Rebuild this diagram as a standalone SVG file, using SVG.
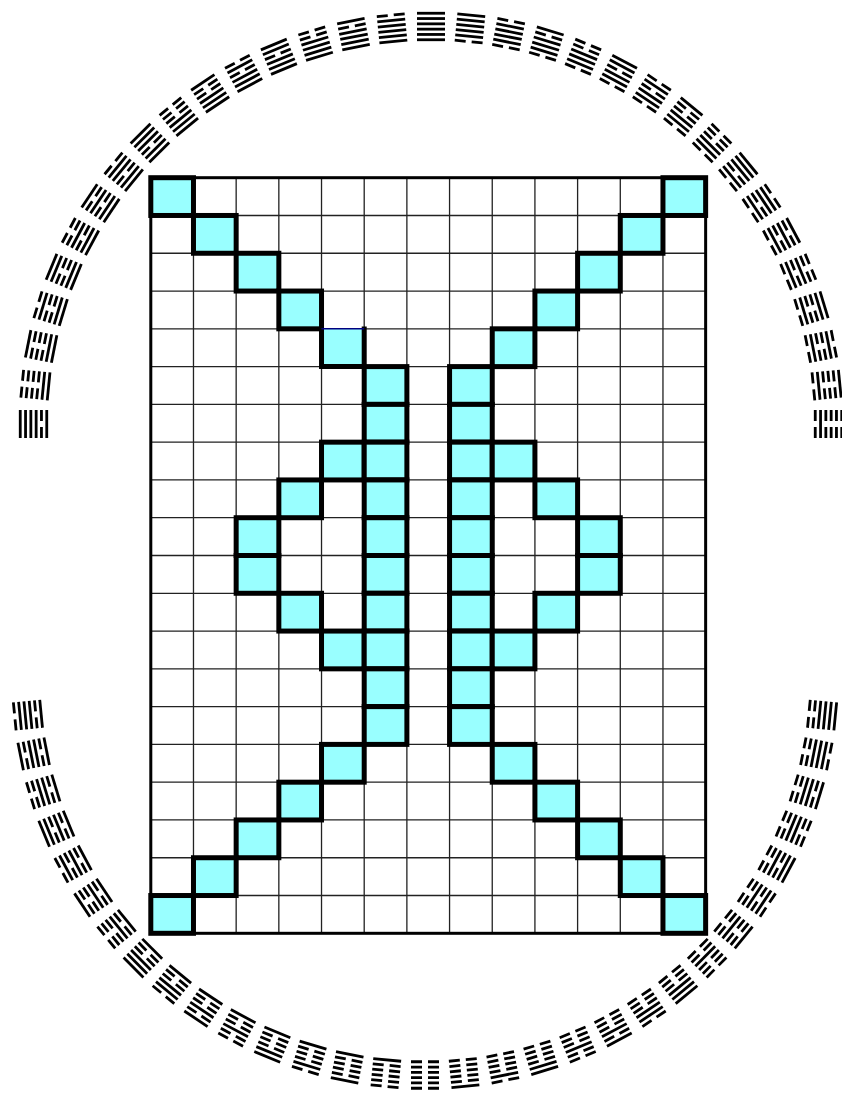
<svg xmlns="http://www.w3.org/2000/svg" width="842" height="1093" viewBox="0 0 842 1093">
<style>
.ln{stroke:#000;stroke-width:2.8;fill:none}
.grid{stroke:#222;stroke-width:1.3;fill:none}
.frame{stroke:#000;stroke-width:3;fill:none}
.cell{fill:#99ffff;stroke:#000;stroke-width:5}
</style>
<defs>
<path id="s" d="M-14 0H14"/>
<path id="b" d="M-14 0H-3M3 0H14"/>
<g id="t7"><use href="#s" y="5.3"/><use href="#s"/><use href="#s" y="-5.3"/></g>
<g id="t6"><use href="#s" y="5.3"/><use href="#s"/><use href="#b" y="-5.3"/></g>
<g id="t5"><use href="#s" y="5.3"/><use href="#b"/><use href="#s" y="-5.3"/></g>
<g id="t4"><use href="#s" y="5.3"/><use href="#b"/><use href="#b" y="-5.3"/></g>
<g id="t3"><use href="#b" y="5.3"/><use href="#s"/><use href="#s" y="-5.3"/></g>
<g id="t2"><use href="#b" y="5.3"/><use href="#s"/><use href="#b" y="-5.3"/></g>
<g id="t1"><use href="#b" y="5.3"/><use href="#b"/><use href="#s" y="-5.3"/></g>
<g id="t0"><use href="#b" y="5.3"/><use href="#b"/><use href="#b" y="-5.3"/></g>
<rect id="c" width="42.68" height="37.78"/>
</defs>
<rect width="842" height="1093" fill="#fff"/>

<g id="hexagrams-top" class="ln" transform="translate(431,424)">
<g id="hex-00" transform="rotate(0) translate(0,-397.5)"><use href="#t7" y="7.95"/><use href="#t7" y="-7.95"/></g>
<g id="hex-01" transform="rotate(5.625) translate(0,-397.5)"><use href="#t3" y="7.95"/><use href="#t7" y="-7.95"/></g>
<g id="hex-02" transform="rotate(11.25) translate(0,-397.5)"><use href="#t3" y="7.95"/><use href="#t6" y="-7.95"/></g>
<g id="hex-03" transform="rotate(16.875) translate(0,-397.5)"><use href="#t3" y="7.95"/><use href="#t5" y="-7.95"/></g>
<g id="hex-04" transform="rotate(22.5) translate(0,-397.5)"><use href="#t3" y="7.95"/><use href="#t4" y="-7.95"/></g>
<g id="hex-05" transform="rotate(28.125) translate(0,-397.5)"><use href="#t3" y="7.95"/><use href="#t3" y="-7.95"/></g>
<g id="hex-06" transform="rotate(33.75) translate(0,-397.5)"><use href="#t3" y="7.95"/><use href="#t2" y="-7.95"/></g>
<g id="hex-07" transform="rotate(39.375) translate(0,-397.5)"><use href="#t3" y="7.95"/><use href="#t1" y="-7.95"/></g>
<g id="hex-08" transform="rotate(45) translate(0,-397.5)"><use href="#t3" y="7.95"/><use href="#t0" y="-7.95"/></g>
<g id="hex-09" transform="rotate(50.625) translate(0,-397.5)"><use href="#t2" y="7.95"/><use href="#t7" y="-7.95"/></g>
<g id="hex-10" transform="rotate(56.25) translate(0,-397.5)"><use href="#t2" y="7.95"/><use href="#t6" y="-7.95"/></g>
<g id="hex-11" transform="rotate(61.875) translate(0,-397.5)"><use href="#t2" y="7.95"/><use href="#t5" y="-7.95"/></g>
<g id="hex-12" transform="rotate(67.5) translate(0,-397.5)"><use href="#t2" y="7.95"/><use href="#t4" y="-7.95"/></g>
<g id="hex-13" transform="rotate(73.125) translate(0,-397.5)"><use href="#t2" y="7.95"/><use href="#t3" y="-7.95"/></g>
<g id="hex-14" transform="rotate(78.75) translate(0,-397.5)"><use href="#t2" y="7.95"/><use href="#t2" y="-7.95"/></g>
<g id="hex-15" transform="rotate(84.375) translate(0,-397.5)"><use href="#t2" y="7.95"/><use href="#t1" y="-7.95"/></g>
<g id="hex-16" transform="rotate(90) translate(0,-397.5)"><use href="#t2" y="7.95"/><use href="#t0" y="-7.95"/></g>
<g id="hex-48" transform="rotate(270) translate(0,-397.5)"><use href="#t5" y="7.95"/><use href="#t7" y="-7.95"/></g>
<g id="hex-49" transform="rotate(275.625) translate(0,-397.5)"><use href="#t6" y="7.95"/><use href="#t0" y="-7.95"/></g>
<g id="hex-50" transform="rotate(281.25) translate(0,-397.5)"><use href="#t6" y="7.95"/><use href="#t1" y="-7.95"/></g>
<g id="hex-51" transform="rotate(286.875) translate(0,-397.5)"><use href="#t6" y="7.95"/><use href="#t2" y="-7.95"/></g>
<g id="hex-52" transform="rotate(292.5) translate(0,-397.5)"><use href="#t6" y="7.95"/><use href="#t3" y="-7.95"/></g>
<g id="hex-53" transform="rotate(298.125) translate(0,-397.5)"><use href="#t6" y="7.95"/><use href="#t4" y="-7.95"/></g>
<g id="hex-54" transform="rotate(303.75) translate(0,-397.5)"><use href="#t6" y="7.95"/><use href="#t5" y="-7.95"/></g>
<g id="hex-55" transform="rotate(309.375) translate(0,-397.5)"><use href="#t6" y="7.95"/><use href="#t6" y="-7.95"/></g>
<g id="hex-56" transform="rotate(315) translate(0,-397.5)"><use href="#t6" y="7.95"/><use href="#t7" y="-7.95"/></g>
<g id="hex-57" transform="rotate(320.625) translate(0,-397.5)"><use href="#t7" y="7.95"/><use href="#t0" y="-7.95"/></g>
<g id="hex-58" transform="rotate(326.25) translate(0,-397.5)"><use href="#t7" y="7.95"/><use href="#t1" y="-7.95"/></g>
<g id="hex-59" transform="rotate(331.875) translate(0,-397.5)"><use href="#t7" y="7.95"/><use href="#t2" y="-7.95"/></g>
<g id="hex-60" transform="rotate(337.5) translate(0,-397.5)"><use href="#t7" y="7.95"/><use href="#t3" y="-7.95"/></g>
<g id="hex-61" transform="rotate(343.125) translate(0,-397.5)"><use href="#t7" y="7.95"/><use href="#t4" y="-7.95"/></g>
<g id="hex-62" transform="rotate(348.75) translate(0,-397.5)"><use href="#t7" y="7.95"/><use href="#t5" y="-7.95"/></g>
<g id="hex-63" transform="rotate(354.375) translate(0,-397.5)"><use href="#t7" y="7.95"/><use href="#t6" y="-7.95"/></g>
</g>

<g id="hexagrams-bottom" class="ln" transform="translate(425,676)">
<g id="hex-17" transform="rotate(95.625) translate(0,-399)"><use href="#t1" y="7.95"/><use href="#t7" y="-7.95"/></g>
<g id="hex-18" transform="rotate(101.25) translate(0,-399)"><use href="#t1" y="7.95"/><use href="#t6" y="-7.95"/></g>
<g id="hex-19" transform="rotate(106.875) translate(0,-399)"><use href="#t1" y="7.95"/><use href="#t5" y="-7.95"/></g>
<g id="hex-20" transform="rotate(112.5) translate(0,-399)"><use href="#t1" y="7.95"/><use href="#t4" y="-7.95"/></g>
<g id="hex-21" transform="rotate(118.125) translate(0,-399)"><use href="#t1" y="7.95"/><use href="#t3" y="-7.95"/></g>
<g id="hex-22" transform="rotate(123.75) translate(0,-399)"><use href="#t1" y="7.95"/><use href="#t2" y="-7.95"/></g>
<g id="hex-23" transform="rotate(129.375) translate(0,-399)"><use href="#t1" y="7.95"/><use href="#t1" y="-7.95"/></g>
<g id="hex-24" transform="rotate(135) translate(0,-399)"><use href="#t1" y="7.95"/><use href="#t0" y="-7.95"/></g>
<g id="hex-25" transform="rotate(140.625) translate(0,-399)"><use href="#t0" y="7.95"/><use href="#t7" y="-7.95"/></g>
<g id="hex-26" transform="rotate(146.25) translate(0,-399)"><use href="#t0" y="7.95"/><use href="#t6" y="-7.95"/></g>
<g id="hex-27" transform="rotate(151.875) translate(0,-399)"><use href="#t0" y="7.95"/><use href="#t5" y="-7.95"/></g>
<g id="hex-28" transform="rotate(157.5) translate(0,-399)"><use href="#t0" y="7.95"/><use href="#t4" y="-7.95"/></g>
<g id="hex-29" transform="rotate(163.125) translate(0,-399)"><use href="#t0" y="7.95"/><use href="#t3" y="-7.95"/></g>
<g id="hex-30" transform="rotate(168.75) translate(0,-399)"><use href="#t0" y="7.95"/><use href="#t2" y="-7.95"/></g>
<g id="hex-31" transform="rotate(174.375) translate(0,-399)"><use href="#t0" y="7.95"/><use href="#t1" y="-7.95"/></g>
<g id="hex-32" transform="rotate(180) translate(0,-399)"><use href="#t0" y="7.95"/><use href="#t0" y="-7.95"/></g>
<g id="hex-33" transform="rotate(185.625) translate(0,-399)"><use href="#t4" y="7.95"/><use href="#t0" y="-7.95"/></g>
<g id="hex-34" transform="rotate(191.25) translate(0,-399)"><use href="#t4" y="7.95"/><use href="#t1" y="-7.95"/></g>
<g id="hex-35" transform="rotate(196.875) translate(0,-399)"><use href="#t4" y="7.95"/><use href="#t2" y="-7.95"/></g>
<g id="hex-36" transform="rotate(202.5) translate(0,-399)"><use href="#t4" y="7.95"/><use href="#t3" y="-7.95"/></g>
<g id="hex-37" transform="rotate(208.125) translate(0,-399)"><use href="#t4" y="7.95"/><use href="#t4" y="-7.95"/></g>
<g id="hex-38" transform="rotate(213.75) translate(0,-399)"><use href="#t4" y="7.95"/><use href="#t5" y="-7.95"/></g>
<g id="hex-39" transform="rotate(219.375) translate(0,-399)"><use href="#t4" y="7.95"/><use href="#t6" y="-7.95"/></g>
<g id="hex-40" transform="rotate(225) translate(0,-399)"><use href="#t4" y="7.95"/><use href="#t7" y="-7.95"/></g>
<g id="hex-41" transform="rotate(230.625) translate(0,-399)"><use href="#t5" y="7.95"/><use href="#t0" y="-7.95"/></g>
<g id="hex-42" transform="rotate(236.25) translate(0,-399)"><use href="#t5" y="7.95"/><use href="#t1" y="-7.95"/></g>
<g id="hex-43" transform="rotate(241.875) translate(0,-399)"><use href="#t5" y="7.95"/><use href="#t2" y="-7.95"/></g>
<g id="hex-44" transform="rotate(247.5) translate(0,-399)"><use href="#t5" y="7.95"/><use href="#t3" y="-7.95"/></g>
<g id="hex-45" transform="rotate(253.125) translate(0,-399)"><use href="#t5" y="7.95"/><use href="#t4" y="-7.95"/></g>
<g id="hex-46" transform="rotate(258.75) translate(0,-399)"><use href="#t5" y="7.95"/><use href="#t5" y="-7.95"/></g>
<g id="hex-47" transform="rotate(264.375) translate(0,-399)"><use href="#t5" y="7.95"/><use href="#t6" y="-7.95"/></g>
</g>

<g id="grid">
<path class="grid" d="M193.48 177.7V933.3M236.16 177.7V933.3M278.84 177.7V933.3M321.52 177.7V933.3M364.2 177.7V933.3M406.88 177.7V933.3M449.56 177.7V933.3M492.24 177.7V933.3M534.92 177.7V933.3M577.6 177.7V933.3M620.28 177.7V933.3M662.96 177.7V933.3M150.8 215.48H705.64M150.8 253.26H705.64M150.8 291.04H705.64M150.8 328.82H705.64M150.8 366.6H705.64M150.8 404.38H705.64M150.8 442.16H705.64M150.8 479.94H705.64M150.8 517.72H705.64M150.8 555.5H705.64M150.8 593.28H705.64M150.8 631.06H705.64M150.8 668.84H705.64M150.8 706.62H705.64M150.8 744.4H705.64M150.8 782.18H705.64M150.8 819.96H705.64M150.8 857.74H705.64M150.8 895.52H705.64"/>
<rect class="frame" x="150.8" y="177.7" width="554.84" height="755.6"/>
</g>

<g id="cells">
<use href="#c" class="cell" x="150.8" y="177.7"/>
<use href="#c" class="cell" x="662.96" y="177.7"/>
<use href="#c" class="cell" x="193.48" y="215.48"/>
<use href="#c" class="cell" x="620.28" y="215.48"/>
<use href="#c" class="cell" x="236.16" y="253.26"/>
<use href="#c" class="cell" x="577.6" y="253.26"/>
<use href="#c" class="cell" x="278.84" y="291.04"/>
<use href="#c" class="cell" x="534.92" y="291.04"/>
<rect x="321.52" y="328.82" width="42.68" height="37.78" fill="#99ffff"/>
<path d="M321.52 328.82V366.6H364.2V326.4" fill="none" stroke="#000" stroke-width="5"/>
<path d="M321.52 328.82H364.2" fill="none" stroke="#000080" stroke-width="1.4"/>
<use href="#c" class="cell" x="492.24" y="328.82"/>
<use href="#c" class="cell" x="364.2" y="366.6"/>
<use href="#c" class="cell" x="449.56" y="366.6"/>
<use href="#c" class="cell" x="364.2" y="404.38"/>
<use href="#c" class="cell" x="449.56" y="404.38"/>
<use href="#c" class="cell" x="321.52" y="442.16"/>
<use href="#c" class="cell" x="364.2" y="442.16"/>
<use href="#c" class="cell" x="449.56" y="442.16"/>
<use href="#c" class="cell" x="492.24" y="442.16"/>
<use href="#c" class="cell" x="278.84" y="479.94"/>
<use href="#c" class="cell" x="364.2" y="479.94"/>
<use href="#c" class="cell" x="449.56" y="479.94"/>
<use href="#c" class="cell" x="534.92" y="479.94"/>
<use href="#c" class="cell" x="236.16" y="517.72"/>
<use href="#c" class="cell" x="364.2" y="517.72"/>
<use href="#c" class="cell" x="449.56" y="517.72"/>
<use href="#c" class="cell" x="577.6" y="517.72"/>
<use href="#c" class="cell" x="236.16" y="555.5"/>
<use href="#c" class="cell" x="364.2" y="555.5"/>
<use href="#c" class="cell" x="449.56" y="555.5"/>
<use href="#c" class="cell" x="577.6" y="555.5"/>
<use href="#c" class="cell" x="278.84" y="593.28"/>
<use href="#c" class="cell" x="364.2" y="593.28"/>
<use href="#c" class="cell" x="449.56" y="593.28"/>
<use href="#c" class="cell" x="534.92" y="593.28"/>
<use href="#c" class="cell" x="321.52" y="631.06"/>
<use href="#c" class="cell" x="364.2" y="631.06"/>
<use href="#c" class="cell" x="449.56" y="631.06"/>
<use href="#c" class="cell" x="492.24" y="631.06"/>
<use href="#c" class="cell" x="364.2" y="668.84"/>
<use href="#c" class="cell" x="449.56" y="668.84"/>
<use href="#c" class="cell" x="364.2" y="706.62"/>
<use href="#c" class="cell" x="449.56" y="706.62"/>
<use href="#c" class="cell" x="321.52" y="744.4"/>
<use href="#c" class="cell" x="492.24" y="744.4"/>
<use href="#c" class="cell" x="278.84" y="782.18"/>
<use href="#c" class="cell" x="534.92" y="782.18"/>
<use href="#c" class="cell" x="236.16" y="819.96"/>
<use href="#c" class="cell" x="577.6" y="819.96"/>
<use href="#c" class="cell" x="193.48" y="857.74"/>
<use href="#c" class="cell" x="620.28" y="857.74"/>
<use href="#c" class="cell" x="150.8" y="895.52"/>
<use href="#c" class="cell" x="662.96" y="895.52"/>
</g>
</svg>
